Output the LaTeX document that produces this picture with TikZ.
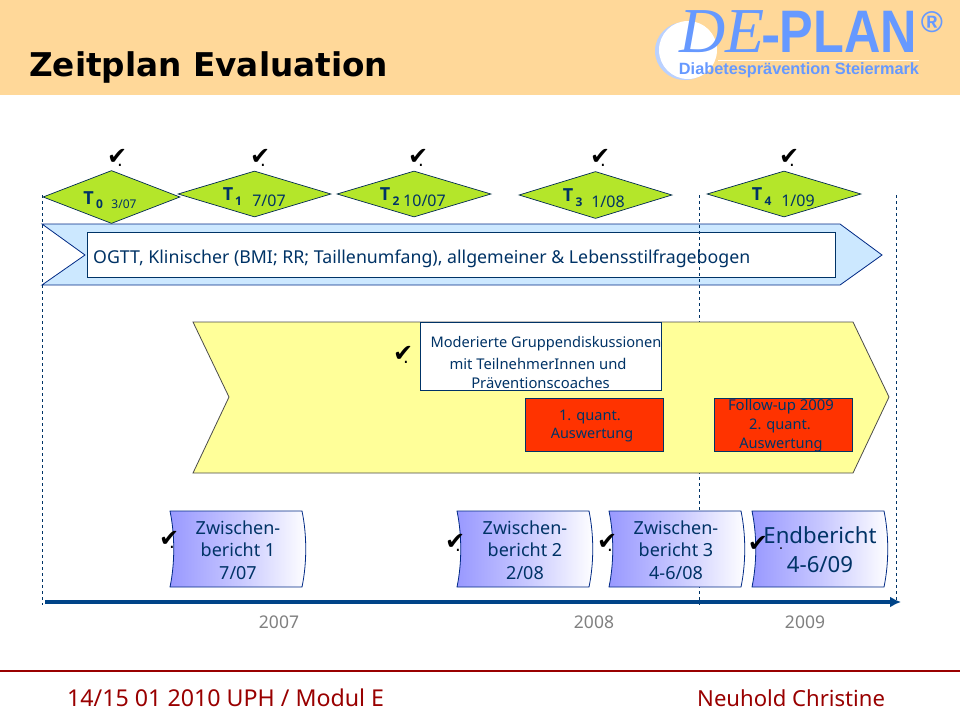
\documentclass[tikz,border=0pt]{standalone}
\usepackage{fontspec}
\setmainfont{Noto Sans}
\newfontfamily\checkfont{DejaVu Sans}
\newfontfamily\titlefont{DejaVu Sans}
\newfontfamily\fettfont{Open Sans}
\newfontfamily\logoserif{Liberation Serif}
\newfontfamily\logosans{Liberation Sans}
\usetikzlibrary{shapes.geometric, arrows.meta}
\definecolor{kopf}{HTML}{FFD899}
\definecolor{logoblau}{HTML}{6699FF}
\definecolor{tinte}{HTML}{003366}
\definecolor{raute}{HTML}{B4E62A}
\definecolor{hellblau}{HTML}{CCE8FF}
\definecolor{gelb}{HTML}{FFFF99}
\definecolor{rot}{HTML}{FF3300}
\definecolor{violett}{HTML}{9999FF}
\definecolor{achse}{HTML}{004488}
\definecolor{fuss}{HTML}{990000}
\newcommand{\hakenpunkt}{✔\kern-10pt\raisebox{-2pt}{\fontsize{18}{18}\selectfont.}}
\begin{document}
\begin{tikzpicture}[x=1pt, y=-1pt, font=\fontsize{14.6}{16}\selectfont, text=tinte]
\tikzset{raute/.style={draw=tinte!80!black, fill=raute, diamond, inner sep=0pt, line width=0.7pt}}
\tikzset{haken/.style={font=\checkfont\fontsize{24}{24}\selectfont, text=black, inner sep=0pt}}
\tikzset{punkt/.style={font=\checkfont\fontsize{14}{14}\selectfont, text=black, inner sep=0pt}}
\tikzset{gross/.style={font=\fettfont\bfseries\fontsize{18}{18}\selectfont, inner sep=0pt}}
\tikzset{klein/.style={font=\fettfont\bfseries\fontsize{12}{12}\selectfont, inner sep=0pt}}
\tikzset{datum/.style={font=\fontsize{16}{16}\selectfont, inner sep=0pt}}
\tikzset{kasten/.style={draw=tinte, line width=0.8pt, inner sep=0pt}}
\tikzset{roterkasten/.style={kasten, fill=rot, minimum width=138pt, minimum height=53pt}}
\tikzset{zeile/.style={inner sep=0pt}}
\tikzset{stdgestrichelt/.style={draw=tinte, dashed, line width=0.7pt}}
\tikzset{bericht/.style={align=center, font=\fontsize{18}{22.5}\selectfont, inner sep=0pt}}
\tikzset{jahr/.style={text=black!50, font=\fontsize{17.5}{18}\selectfont, inner sep=0pt}}
\tikzset{fusszeile/.style={inner sep=0pt, anchor=base west, text=fuss, font=\fontsize{23.2}{24}\selectfont}}
\useasboundingbox (0,0) rectangle (960,720);
% Kopf
\fill[kopf] (0,0) rectangle (960,95);
\fill[logoblau!45!white] (685,51) circle (30 and 29);
\fill[white] (688,50) circle (29);
\node[font=\logoserif\itshape\fontsize{64}{64}\selectfont, text=logoblau, inner sep=0pt] (logode) at (722,32) {DE};
\node[font=\logosans\bfseries\fontsize{58}{58}\selectfont, text=logoblau, inner sep=0pt] (logostrich) at (771,45) {-};
\node[font=\logosans\bfseries\fontsize{60}{60}\selectfont, text=logoblau, inner sep=0pt, xscale=0.84, transform shape] (logoplan) at (848.5,32) {PLAN};
\node[font=\logosans\bfseries\fontsize{30}{30}\selectfont, text=logoblau, inner sep=0pt] (logor) at (932,22) {®};
\fill[white!90!kopf] (718,59.5) rectangle (919,61);
\node[font=\logosans\bfseries\fontsize{16.3}{17}\selectfont, text=logoblau, inner sep=0pt] (logozeile) at (799,70) {Diabetesprävention Steiermark};
\node[font=\titlefont\bfseries\fontsize{32.7}{33}\selectfont, text=black, inner sep=0pt, anchor=base west] (titel) at (29,76.5) {Zeitplan Evaluation};
% Zeitachse, Linien
\coordinate (s1) at (42,195);
\coordinate (e1) at (42,605);
\coordinate (s2) at (699,195);
\coordinate (e2) at (699,605);
\coordinate (s3) at (896,195);
\coordinate (e3) at (896,600);
\coordinate (a1) at (45,602);
\coordinate (a2) at (901,602);
% Pfeile
\draw[fill=hellblau, draw=tinte!80!blue, line width=0.8pt] (42,224) -- (840,224) -- (882,255) -- (840,285) -- (42,285) -- (85,255) -- cycle;
\node[kasten, fill=white, minimum width=748pt, minimum height=45pt] (ogtt) at (461,254.5) {};
\node[zeile, anchor=west, font=\fontsize{17.75}{18}\selectfont] (ogtttext) at (93,259) {OGTT, Klinischer (BMI; RR; Taillenumfang), allgemeiner \& Lebensstilfragebogen};
\draw[stdgestrichelt] (s1) -- (e1);
\draw[stdgestrichelt] (s2) -- (e2);
\draw[stdgestrichelt] (s3) -- (e3);
\draw[fill=gelb, draw=black!70, line width=0.8pt] (193,322) -- (853,322) -- (889,397) -- (853,473) -- (193,473) -- (229,397) -- cycle;
% Rauten
\node[raute, minimum width=137pt, minimum height=53pt] (T0) at (111.5,197) {};
\node[raute, minimum width=153pt, minimum height=46pt] (T1) at (254.5,194) {};
\node[raute, minimum width=154pt, minimum height=46pt] (T2) at (414,194) {};
\node[raute, minimum width=153pt, minimum height=47pt] (T3) at (595.5,195) {};
\node[raute, minimum width=154pt, minimum height=46pt] (T4) at (784,194) {};
\node[gross] (T0t) at (88.5,198) {T};
\node[klein] (T0n) at (99.5,204) {0};
\node[zeile, font=\fontsize{12}{12}\selectfont] (T0d) at (124,204) {3/07};
\node[gross] (T1t) at (228,194) {T};
\node[klein] (T1n) at (238.5,201) {1};
\node[datum] (T1d) at (269,201) {7/07};
\node[gross] (T2t) at (385,194) {T};
\node[klein] (T2n) at (396,201) {2};
\node[datum] (T2d) at (424.5,201) {10/07};
\node[gross] (T3t) at (568,195) {T};
\node[klein] (T3n) at (579,202) {3};
\node[datum] (T3d) at (608,202) {1/08};
\node[gross] (T4t) at (757,194) {T};
\node[klein] (T4n) at (768,201) {4};
\node[datum] (T4d) at (798,201) {1/09};
% Haken
\node[haken] (h0) at (115,158) {\hakenpunkt};
\node[haken] (h1) at (258,158) {\hakenpunkt};
\node[haken] (h2) at (416,158) {\hakenpunkt};
\node[haken] (h3) at (598,158) {\hakenpunkt};
\node[haken] (h4) at (787,158) {\hakenpunkt};
\node[haken] (h5) at (401,355) {\hakenpunkt};
% Kaesten
\node[kasten, fill=white, minimum width=241pt, minimum height=68pt] (gruppe) at (540.5,356) {};
\node[zeile] (gruppe1) at (546,343.5) {Moderierte Gruppendiskussionen};
\node[zeile, font=\fontsize{14.8}{16}\selectfont] (gruppe2) at (538,363.5) {mit TeilnehmerInnen und};
\node[zeile, font=\fontsize{14.8}{16}\selectfont] (gruppe3) at (540.5,383) {Präventionscoaches};
\node[roterkasten] (rot1) at (594,424.5) {};
\node[zeile] (rot1a) at (590,417.5) {1. quant.};
\node[zeile, font=\fontsize{14.4}{16}\selectfont] (rot1b) at (592,435.5) {Auswertung};
\node[roterkasten] (rot2) at (783,424.5) {};
\node[zeile, font=\fontsize{14.9}{16}\selectfont] (rot2a) at (781,406.5) {Follow-up 2009};
\node[zeile] (rot2b) at (780,425.5) {2. quant.};
\node[zeile] (rot2c) at (781,445.5) {Auswertung};
% Berichte
\foreach \x in {170,457,609,752} {
\draw[draw=tinte!80!blue, line width=0.8pt, left color=violett, right color=white, middle color=violett!55!white, shading angle=90]
  (\x,511) -- (\x+132,511) .. controls (\x+137,535) and (\x+137,563) .. (\x+132,587) -- (\x,587) .. controls (\x+5,563) and (\x+5,535) .. (\x,511) -- cycle;
}
\node[bericht] (b1) at (238,550) {Zwischen-\\bericht 1\\7/07};
\node[bericht] (b2) at (525,550) {Zwischen-\\bericht 2\\2/08};
\node[bericht] (b3) at (676,550) {Zwischen-\\bericht 3\\4-6/08};
\node[bericht, font=\fontsize{22.2}{29}\selectfont] (b4) at (820,550) {Endbericht\\4-6/09};
\node[haken] (h6) at (167,540) {\hakenpunkt};
\node[haken] (h7) at (453,543) {\hakenpunkt};
\node[haken] (h8) at (605,543) {\hakenpunkt};
\node[haken] (h9) at (758,544) {✔};
\node[punkt] (p9) at (781,549) {.};
% Achse
\draw[achse, draw=achse, line width=3.5pt, -{Latex[length=11pt, width=11pt]}] (a1) -- (a2);
\node[jahr] (j1) at (279,622) {2007};
\node[jahr] (j2) at (594,622) {2008};
\node[jahr] (j3) at (805,622) {2009};
% Fuss
\draw[fuss, line width=2.5pt] (0,671) -- (960,671);
\node[fusszeile] (fuss1) at (67,706) {14/15 01 2010 UPH / Modul E};
\node[fusszeile, font=\fontsize{22.1}{24}\selectfont] (fuss2) at (697,706) {Neuhold Christine};
\end{tikzpicture}
\end{document}
